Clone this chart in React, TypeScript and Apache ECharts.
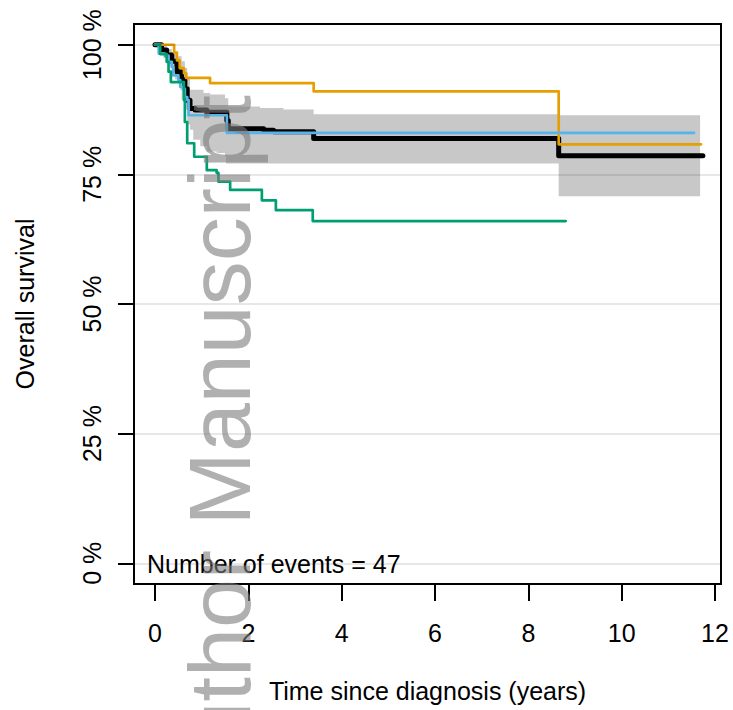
import React, { useEffect, useRef } from "react";
import * as echarts from "echarts";

// Tick labels
const xTicks = [0, 2, 4, 6, 8, 10, 12];
const yTicks = [0, 25, 50, 75, 100];

// Overall Kaplan-Meier curve (time in years, survival in %)
const allTimes = [0, 0.14, 0.25, 0.36, 0.47, 0.57, 0.64, 0.69, 0.75, 0.86, 1.11, 1.54, 1.57, 2.33, 2.54, 3.4, 8.65, 11.74];
const allSurv = [100, 99.0, 98.0, 96.8, 94.8, 93.2, 91.5, 89.3, 87.7, 87.4, 87.0, 85.4, 83.8, 83.5, 83.2, 81.9, 78.6, 78.6];

// 95% confidence band of the overall curve
const bandTimes = [0, 0.07, 0.14, 0.18, 0.25, 0.32, 0.36, 0.43, 0.47, 0.54, 0.57, 0.64, 0.69, 0.75, 0.82, 0.97, 1.04, 1.11, 1.18, 1.32, 1.5, 1.52, 1.57, 2.25, 2.75, 3.4, 8.65, 11.68];
const bandUpper = [100, 100, 99.8, 99.8, 99.2, 99.2, 98.6, 98.6, 97.8, 97.8, 96.8, 95.5, 93.6, 91.3, 91.3, 91.3, 90.7, 90.7, 90.4, 90.4, 89.7, 89.7, 88.1, 87.8, 87.5, 86.6, 86.4, 86.4];
const bandLower = [100, 99.0, 99.0, 97.4, 97.4, 95.8, 95.8, 93.3, 93.3, 91.3, 89.4, 87.5, 84.6, 83.6, 81.7, 80.4, 80.4, 79.4, 79.4, 79.1, 78.5, 77.1, 77.1, 77.1, 77.1, 77.1, 70.8, 70.8];

// Strata curves
const orangeTimes = [0, 0.41, 0.47, 0.53, 0.62, 0.67, 1.18, 3.4, 8.65, 11.7];
const orangeSurv = [100, 98.5, 97.0, 95.5, 94.5, 93.6, 92.6, 91.0, 80.8, 80.8];

const blueTimes = [0, 0.08, 0.21, 0.29, 0.36, 0.39, 0.5, 0.54, 0.6, 0.64, 0.69, 0.72, 1.54, 11.55];
const blueSurv = [100, 98.3, 97.9, 96.7, 95.7, 94.1, 93.2, 91.9, 91.5, 89.9, 89.3, 86.4, 83.0, 83.0];

const greenTimes = [0, 0.11, 0.25, 0.29, 0.34, 0.62, 0.64, 0.69, 0.84, 1.11, 1.32, 1.36, 1.61, 2.29, 2.59, 3.38, 8.8];
const greenSurv = [100, 98.2, 96.7, 94.8, 92.8, 89.3, 85.1, 81.0, 78.4, 75.8, 75.3, 73.6, 72.0, 70.0, 68.1, 66.0, 66.0];

const eventsText = "Number of events = 47";
const watermarkText = "Author Manuscript";

const FONT = "'Liberation Sans', Arial, Helvetica, sans-serif";

const pairs = (t: number[], v: number[]) => t.map((x, i) => [x, v[i]]);

export default function App() {
  const ref = useRef<HTMLDivElement>(null);

  useEffect(() => {
    if (!ref.current) return;
    const chart = echarts.init(ref.current, undefined, { renderer: "svg" });

    const kmLine = (name: string, t: number[], v: number[], color: string, width: number, z: number) => ({
      name,
      type: "line",
      data: pairs(t, v),
      step: "end",
      showSymbol: false,
      symbol: "none",
      silent: true,
      z,
      lineStyle: { color, width, cap: "round", join: "round" },
    });

    // Step-shaped confidence band polygon, built through the axes' coordinates
    const bandRender = (params: any, api: any) => {
      if (params.dataIndex !== 0) return null;
      const pts: number[][] = [];
      const n = bandTimes.length;
      for (let i = 0; i < n; i++) {
        const t0 = bandTimes[i];
        const t1 = i + 1 < n ? bandTimes[i + 1] : bandTimes[i];
        pts.push(api.coord([t0, bandUpper[i]]));
        pts.push(api.coord([t1, bandUpper[i]]));
      }
      for (let i = n - 1; i >= 0; i--) {
        const t0 = bandTimes[i];
        const t1 = i + 1 < n ? bandTimes[i + 1] : bandTimes[i];
        pts.push(api.coord([t1, bandLower[i]]));
        pts.push(api.coord([t0, bandLower[i]]));
      }
      return {
        type: "polygon",
        shape: { points: pts },
        style: { fill: "#c8c8c8", stroke: "none" },
        silent: true,
      };
    };

    const option: any = {
      animation: false,
      backgroundColor: "#ffffff",
      grid: {
        left: 134,
        top: 24,
        width: 587,
        height: 560,
        show: true,
        borderColor: "#000",
        borderWidth: 2,
        backgroundColor: "transparent",
        containLabel: false,
      },
      xAxis: {
        type: "value",
        min: -0.45,
        max: 12.128,
        axisLine: { show: false, onZero: false },
        splitLine: { show: false },
        axisTick: {
          show: true,
          inside: false,
          customValues: xTicks,
          length: 17,
          lineStyle: { color: "#000", width: 2 },
        },
        axisLabel: {
          customValues: xTicks,
          fontSize: 25,
          fontFamily: FONT,
          color: "#000",
          margin: 36,
        },
        name: "Time since diagnosis (years)",
        nameLocation: "middle",
        nameGap: 94,
        nameTextStyle: { fontSize: 25, fontFamily: FONT, color: "#000" },
      },
      yAxis: {
        type: "value",
        min: -4,
        max: 104,
        axisLine: { show: false, onZero: false },
        splitLine: { show: false },
        axisTick: {
          show: true,
          inside: false,
          customValues: yTicks,
          length: 16,
          lineStyle: { color: "#000", width: 2 },
        },
        axisLabel: {
          customValues: yTicks,
          rotate: 90,
          formatter: (v: number) => `${v} %`,
          fontSize: 25,
          fontFamily: FONT,
          color: "#000",
          margin: 30,
        },
        name: "Overall survival",
        nameLocation: "middle",
        nameRotate: 90,
        nameGap: 97,
        nameTextStyle: { fontSize: 25, fontFamily: FONT, color: "#000" },
      },
      series: [
        {
          name: "CI band",
          type: "custom",
          renderItem: bandRender,
          data: pairs(bandTimes, bandUpper),
          silent: true,
          z: 1,
        },
        {
          name: "grid",
          type: "line",
          data: [],
          silent: true,
          z: 2,
          markLine: {
            silent: true,
            symbol: ["none", "none"],
            label: { show: false },
            lineStyle: { color: "rgba(0,0,0,0.13)", width: 1.5, type: "solid" },
            data: yTicks.map((v) => ({ yAxis: v })),
          },
        },
        kmLine("All", allTimes, allSurv, "#000000", 5, 3),
        kmLine("Orange", orangeTimes, orangeSurv, "#E69F00", 2.7, 4),
        kmLine("Blue", blueTimes, blueSurv, "#56B4E9", 2.7, 4),
        kmLine("Green", greenTimes, greenSurv, "#009E73", 2.7, 4),
      ],
      graphic: [
        {
          type: "text",
          x: 147,
          y: 564,
          z: 50,
          silent: true,
          style: {
            text: eventsText,
            font: `25px ${FONT}`,
            fill: "#000",
            textAlign: "left",
            align: "left",
            textVerticalAlign: "middle",
            verticalAlign: "middle",
          },
        },
        {
          type: "text",
          x: 219,
          y: 95,
          rotation: Math.PI / 2,
          z: 100,
          silent: true,
          style: {
            text: watermarkText,
            font: `88px ${FONT}`,
            fill: "rgba(123,123,123,0.6)",
            textAlign: "right",
            align: "right",
            textVerticalAlign: "middle",
            verticalAlign: "middle",
          },
        },
      ],
    };

    chart.setOption(option);
    return () => chart.dispose();
  }, []);

  return (
    <div
      ref={ref}
      style={{ position: "fixed", left: 0, top: 0, width: 733, height: 710, background: "#fff" }}
    />
  );
}
